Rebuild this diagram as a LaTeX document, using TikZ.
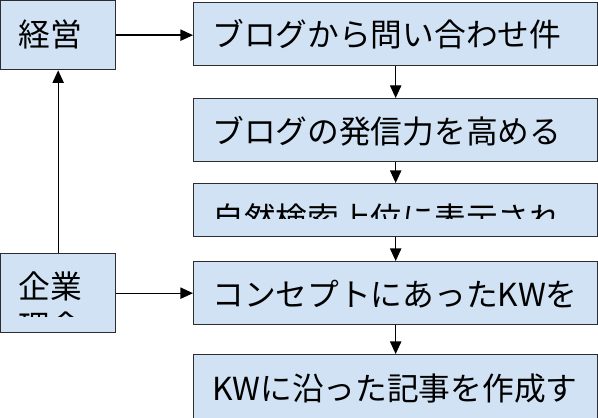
\documentclass[tikz,border=0pt]{standalone}
\usepackage{fontspec}
\setmainfont{Noto Sans CJK JP}
\usetikzlibrary{arrows.meta}
\definecolor{boxblue}{RGB}{208,226,243}
\definecolor{boxline}{RGB}{45,45,45}
\begin{document}
\begin{tikzpicture}[x=0.75pt,y=-0.75pt]
        \tikzset{box/.style={draw=boxline,fill=boxblue,line width=1pt,inner sep=0pt,anchor=north west},
                 lbl/.style={anchor=west,inner sep=0pt,align=left,font=\fontsize{23.8}{30}\selectfont},
                 arr/.style={-{Triangle[length=9.5pt,width=8.5pt]},line width=1pt}}
        \useasboundingbox (0,0) rectangle (598,417);
        \node [box,minimum width=86.25pt,minimum height=51.75pt] (keiei) at (0,0) {};
        \node [box,minimum width=86.25pt,minimum height=59.25pt] (kigyo) at (0,253) {};
        \node [box,minimum width=303pt,minimum height=47.25pt] (goal) at (193,2) {};
        \node [box,minimum width=303pt,minimum height=47.25pt] (blog) at (193,98) {};
        \node [box,minimum width=303pt,minimum height=39.75pt] (seo) at (193,183) {};
        \node [box,minimum width=303pt,minimum height=47.25pt] (kw) at (193,261) {};
        \node [box,minimum width=303pt,minimum height=52.5pt] (post) at (193,354) {};
        \node [lbl] (tkeiei) at (18,34) {経営};
        \begin{scope}
        \clip (0,253) rectangle (115,316);
        \node [lbl] (tkigyo) at (18,306.5) {企業\\理念};
        \end{scope}
        \node [lbl] (tgoal) at (212,34) {ブログから問い合わせ件};
        \node [lbl] (tblog) at (212,131) {ブログの発信力を高める};
        \begin{scope}
        \clip (193,183) rectangle (597,218.5);
        \node [lbl] (tseo) at (212,218) {自然検索上位に表示され};
        \end{scope}
        \node [lbl] (tkw) at (212,294) {コンセプトにあったKWを};
        \node [lbl] (tpost) at (212,389) {KWに沿った記事を作成す};
        \draw [arr] (keiei.east) -- (keiei.east -| goal.west);
        \draw [arr] (kigyo.north) -- (keiei.south);
        \draw [arr] (kigyo.east) -- (kigyo.east -| kw.west);
        \draw [arr] (goal.south) -- (blog.north);
        \draw [arr] (blog.south) -- (seo.north);
        \draw [arr] (seo.south) -- (kw.north);
        \draw [arr] (kw.south) -- (post.north);
\end{tikzpicture}
\end{document}
